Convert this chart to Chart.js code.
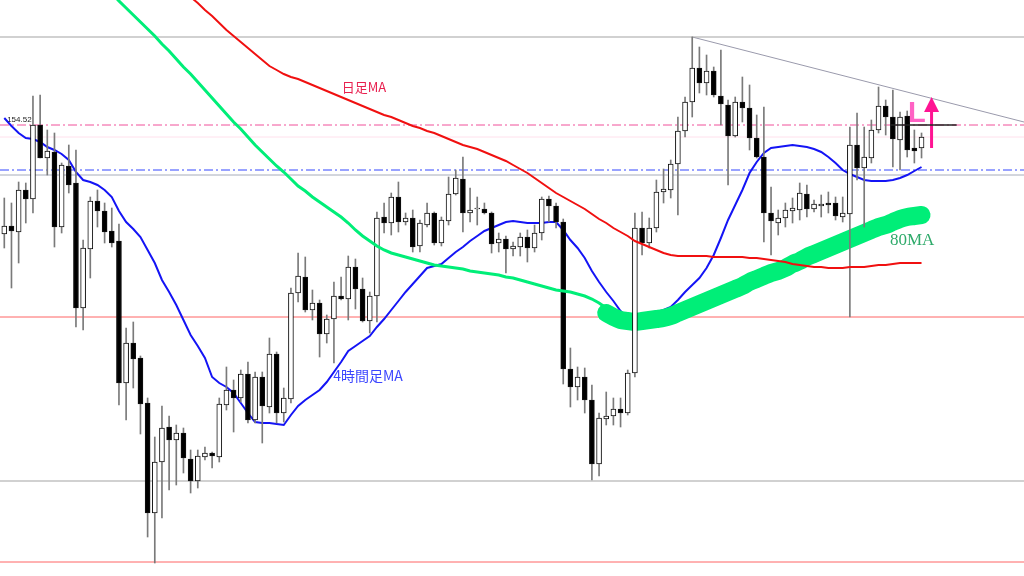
<!DOCTYPE html>
<html>
<head>
<meta charset="utf-8">
<script src="https://cdn.jsdelivr.net/npm/chart.js@4.4.1/dist/chart.umd.min.js"></script>
<style>
  html, body { margin: 0; padding: 0; background: #ffffff; }
  #wrap { width: 1024px; height: 576px; }
</style>
</head>
<body>
<div id="wrap"><canvas id="chart" width="1024" height="576"></canvas></div>
<script>
// 4h candles, index 0..128 (prices)
var candleOpen = [
  153.43,153.51,153.45,153.87,153.78,154.52,154.19,154.25,153.50,154.11,
  153.94,152.69,153.28,153.76,153.66,153.46,153.36,151.94,152.34,152.19,
  151.74,150.64,151.15,151.50,151.37,151.44,151.18,150.96,151.20,151.24,
  151.20,151.72,151.87,151.79,152.03,151.57,152.00,151.70,152.23,151.64,
  151.78,152.84,153.00,152.67,152.74,152.43,152.58,152.81,152.78,153.10,
  152.88,152.56,152.81,153.60,153.54,153.80,153.55,153.59,153.31,153.52,
  153.64,153.34,153.56,153.83,153.98,153.64,153.68,153.68,153.64,153.34,
  153.38,153.28,153.30,153.40,153.29,153.44,153.78,153.71,153.55,152.08,
  151.90,152.00,151.77,151.13,151.58,151.61,151.68,151.64,152.04,153.49,
  153.34,153.49,153.85,153.87,154.13,154.46,154.75,155.09,154.94,155.06,
  154.81,154.72,154.41,154.75,154.69,154.39,154.20,153.64,153.54,153.59,
  153.66,153.67,153.83,153.68,153.71,153.74,153.74,153.60,153.63,154.32,
  154.09,154.19,154.47,154.71,154.60,154.37,154.61,154.29,154.29
];
var candleHigh = [
  153.79,153.74,153.95,153.94,154.81,154.82,154.47,154.44,154.14,154.32,
  154.27,153.37,153.80,153.87,153.74,153.69,153.53,152.49,152.55,152.21,
  151.79,151.40,151.71,151.61,151.52,151.49,151.27,151.27,151.30,151.25,
  151.79,152.10,151.97,152.07,152.15,152.05,152.05,152.39,152.25,151.89,
  152.89,153.24,153.20,152.87,152.77,152.62,152.95,153.00,153.21,153.18,
  152.99,152.85,153.65,153.74,153.84,153.95,153.64,153.67,153.57,153.74,
  153.65,153.60,154.00,154.07,154.20,153.89,153.80,153.74,153.65,153.44,
  153.41,153.35,153.44,153.47,153.52,153.80,153.81,153.74,153.58,152.29,
  152.10,152.09,151.92,151.64,151.85,151.79,151.79,152.07,153.64,153.65,
  153.59,153.97,154.08,154.17,154.60,154.80,155.40,155.30,155.22,155.10,
  155.27,154.77,154.80,155.00,154.92,154.62,154.70,153.90,153.67,153.74,
  153.79,153.94,153.92,153.77,153.82,153.85,153.80,153.80,154.50,154.64,
  154.50,154.57,154.90,154.77,154.87,154.65,154.66,154.47,154.44
];
var candleLow = [
  153.29,152.89,153.14,153.54,153.64,154.19,154.02,153.30,153.44,153.84,
  152.50,152.47,152.99,153.50,153.34,153.30,151.72,151.57,151.89,151.43,
  150.40,150.14,150.59,150.87,150.92,151.04,150.84,150.89,151.17,151.09,
  151.15,151.67,151.45,151.75,151.54,151.54,151.34,151.64,151.54,151.55,
  151.74,152.75,152.65,152.57,152.20,152.34,152.14,152.77,152.57,152.68,
  152.55,152.44,152.55,153.44,153.42,153.45,153.52,153.25,153.25,153.50,
  153.32,153.31,153.52,153.82,153.45,153.55,153.52,153.63,153.24,153.25,
  153.04,153.21,153.21,153.15,153.25,153.37,153.55,153.49,151.93,151.70,
  151.77,151.64,150.97,151.01,151.52,151.52,151.50,151.62,152.00,153.22,
  153.29,153.45,153.74,153.79,153.62,154.40,154.60,154.84,154.82,154.80,
  154.52,153.92,154.40,154.55,154.27,154.19,153.35,153.22,153.42,153.50,
  153.54,153.57,153.60,153.65,153.60,153.64,153.57,153.55,152.60,153.97,
  153.50,154.14,154.44,154.42,154.10,154.07,154.20,154.14,154.19
];
var candleClose = [
  153.51,153.46,153.87,153.78,154.52,154.19,154.26,153.50,154.12,153.92,
  152.69,153.29,153.76,153.66,153.45,153.34,151.94,152.34,152.18,151.73,
  150.64,151.15,151.49,151.37,151.44,151.19,150.96,151.21,151.24,151.21,
  151.73,151.87,151.79,152.03,151.57,152.00,151.71,152.23,151.64,151.79,
  152.84,153.01,152.67,152.74,152.43,152.58,152.81,152.78,153.10,152.88,
  152.56,152.81,153.59,153.54,153.80,153.55,153.59,153.30,153.54,153.64,
  153.34,153.57,153.83,153.99,153.64,153.67,153.69,153.64,153.33,153.38,
  153.28,153.31,153.40,153.29,153.44,153.78,153.71,153.55,152.08,151.90,
  152.00,151.77,151.13,151.59,151.61,151.68,151.64,152.04,153.49,153.34,
  153.49,153.85,153.88,154.13,154.46,154.75,155.09,154.94,155.06,154.82,
  154.73,154.41,154.75,154.69,154.39,154.20,153.64,153.56,153.59,153.67,
  153.69,153.84,153.68,153.73,153.73,153.72,153.61,153.64,154.32,154.09,
  154.20,154.47,154.71,154.60,154.38,154.60,154.27,154.26,154.40
];

// 4時間足MA (blue), starts at candle 0
var maFourHour = [
  154.59,154.51,154.44,154.39,154.38,154.35,154.30,154.27,154.23,154.17,
  154.05,153.97,153.95,153.92,153.87,153.80,153.66,153.55,153.48,153.40,
  153.27,153.14,152.97,152.85,152.72,152.57,152.42,152.31,152.19,152.00,
  151.94,151.90,151.84,151.74,151.64,151.55,151.54,151.54,151.53,151.52,
  151.62,151.71,151.77,151.82,151.87,151.95,152.05,152.15,152.26,152.31,
  152.36,152.41,152.50,152.58,152.67,152.76,152.85,152.93,153.01,153.09,
  153.11,153.13,153.19,153.25,153.30,153.36,153.41,153.46,153.49,153.52,
  153.55,153.56,153.55,153.54,153.54,153.54,153.55,153.55,153.47,153.37,
  153.29,153.19,153.06,152.95,152.85,152.76,152.66,152.59,152.57,152.59,
  152.62,152.65,152.67,152.70,152.77,152.85,152.92,152.99,153.09,153.22,
  153.39,153.57,153.72,153.87,154.04,154.15,154.24,154.29,154.30,154.31,
  154.32,154.31,154.30,154.28,154.25,154.20,154.14,154.07,154.03,154.00,
  153.97,153.96,153.96,153.96,153.97,153.99,154.02,154.06,154.10
];

// 日足MA (red), starts at candle 26
var maDailyStart = 26;
var maDaily = [
  155.80,155.74,155.67,155.61,
  155.54,155.47,155.41,155.35,155.29,155.23,155.17,155.11,155.07,155.03,
  155.00,154.98,154.95,154.92,154.89,154.86,154.83,154.80,154.77,154.74,
  154.71,154.68,154.65,154.62,154.60,154.57,154.54,154.51,154.49,154.46,
  154.44,154.41,154.38,154.35,154.32,154.30,154.28,154.25,154.22,154.19,
  154.16,154.12,154.08,154.04,153.99,153.94,153.89,153.84,153.80,153.76,
  153.72,153.68,153.63,153.58,153.54,153.49,153.45,153.41,153.36,153.33,
  153.30,153.27,153.24,153.22,153.21,153.21,153.21,153.21,153.21,153.20,
  153.20,153.20,153.20,153.20,153.19,153.19,153.18,153.17,153.16,153.15,
  153.13,153.12,153.11,153.10,153.10,153.09,153.09,153.09,153.10,153.10,
  153.10,153.11,153.12,153.12,153.13,153.14,153.14,153.14,153.14
];

// 1時間足 80MA (thin green), starts at candle 15
var ma80Start = 15;
var ma80 = [
  155.84,155.76,155.69,155.62,155.55,
  155.48,155.41,155.33,155.26,155.18,155.10,155.03,154.95,154.87,154.79,
  154.71,154.63,154.55,154.48,154.40,154.32,154.25,154.18,154.11,154.05,
  153.98,153.91,153.86,153.80,153.75,153.70,153.65,153.60,153.54,153.47,
  153.41,153.36,153.31,153.27,153.24,153.22,153.20,153.18,153.16,153.14,
  153.12,153.11,153.10,153.09,153.08,153.06,153.05,153.04,153.03,153.02,
  153.00,152.99,152.97,152.95,152.93,152.91,152.89,152.87,152.86,152.85,
  152.83,152.81,152.78,152.74,152.69
];

// hand-drawn 80MA marker stroke, starts at candle 84
var marker80Start = 84;
var marker80 = [
  152.64,152.60,152.57,152.56,152.55,152.56,
  152.57,152.58,152.59,152.61,152.64,152.67,152.70,152.73,152.76,152.79,
  152.82,152.85,152.88,152.91,152.95,152.98,153.01,153.04,153.06,153.09,
  153.13,153.16,153.20,153.23,153.26,153.29,153.32,153.35,153.38,153.41,
  153.44,153.47,153.50,153.52,153.55,153.58,153.60,153.61,153.62
];

// horizontal levels and the falling trend line
var levelPrices = [155.40, 154.52, 154.40, 154.07, 154.02, 152.60, 150.96, 150.15];
var trendIndex = [96, 142.3];
var trendPrice = [155.40, 154.55];
var entryIndex = [123.6, 132.9];
var entryPrice = 154.52;
var arrowIndex = 129.4;
var arrowPrice = [154.29, 154.80];

var levelStyles = [
  { color: '#a3a3a3', dash: [] },
  { color: '#f0509a', dash: [9, 3, 2, 3] },
  { color: '#ffe0ec', dash: [] },
  { color: '#3347ff', dash: [9, 3, 2, 3] },
  { color: '#a6acba', dash: [] },
  { color: '#ff6464', dash: [] },
  { color: '#a3a3a3', dash: [] },
  { color: '#ff6464', dash: [] }
];

var notes = [
  { text: '154.52', x: 0.4, y: 154.57, font: '8px "Liberation Sans"', color: '#222222' },
  { text: '日足MA', x: 47.1, y: 154.90, font: '13px "Noto Sans CJK JP"', color: '#e8204f' },
  { text: '4時間足MA', x: 45.9, y: 152.01, font: '14px "Noto Sans CJK JP"', color: '#3c46ff' },
  { text: '80MA', x: 123.6, y: 153.36, font: '17px "Liberation Serif"', color: '#2eaa6a' }
];

var xMin = -0.6, xMax = 142.3, yMin = 150.01, yMax = 155.77;

function series(start, values) {
  var pts = [];
  values.forEach(function(v, i) { pts.push({ x: start + i, y: v }); });
  return pts;
}

var wicks = [];
var bodies = [];
var bodyColors = [];
for (var i = 0; i < candleOpen.length; i++) {
  wicks.push({ x: i, y: [candleLow[i], candleHigh[i]] });
  bodies.push({ x: i, y: [candleOpen[i], candleClose[i]] });
  bodyColors.push(candleClose[i] >= candleOpen[i] ? '#ffffff' : '#000000');
}

var datasets = [];

levelPrices.forEach(function(p, k) {
  datasets.push({
    type: 'line',
    data: [{ x: xMin, y: p }, { x: xMax, y: p }],
    borderColor: levelStyles[k].color,
    borderDash: levelStyles[k].dash,
    borderWidth: 1,
    pointRadius: 0,
    order: 10
  });
});

datasets.push({
  type: 'line',
  data: [{ x: trendIndex[0], y: trendPrice[0] }, { x: trendIndex[1], y: trendPrice[1] }],
  borderColor: '#9a9aac',
  borderWidth: 1,
  pointRadius: 0,
  order: 10
});

datasets.push({
  type: 'line',
  data: series(0, maFourHour),
  borderColor: '#1414f5',
  borderWidth: 2,
  pointRadius: 0,
  order: 9
});

datasets.push({
  type: 'line',
  data: series(marker80Start, marker80),
  borderColor: 'rgb(0,238,120)',
  borderWidth: 18,
  borderCapStyle: 'round',
  borderJoinStyle: 'round',
  tension: 0.3,
  pointRadius: 0,
  order: 8
});

datasets.push({
  type: 'bar',
  data: wicks,
  backgroundColor: '#7a7a7a',
  borderWidth: 0,
  barThickness: 1,
  grouped: false,
  order: 7
});

datasets.push({
  type: 'bar',
  data: bodies,
  backgroundColor: bodyColors,
  borderColor: '#111111',
  borderWidth: 1,
  borderSkipped: false,
  barThickness: 5,
  grouped: false,
  order: 6
});

datasets.push({
  type: 'line',
  data: series(maDailyStart, maDaily),
  borderColor: '#f01010',
  borderWidth: 2,
  pointRadius: 0,
  order: 5
});

datasets.push({
  type: 'line',
  data: series(ma80Start, ma80),
  borderColor: 'rgb(0,238,120)',
  borderWidth: 3,
  pointRadius: 0,
  order: 5
});

datasets.push({
  type: 'line',
  data: [{ x: entryIndex[0], y: entryPrice }, { x: entryIndex[1], y: entryPrice }],
  borderColor: '#222222',
  borderWidth: 1.5,
  pointRadius: 0,
  order: 1
});

datasets.push({
  type: 'line',
  data: [{ x: arrowIndex, y: arrowPrice[0] }, { x: arrowIndex, y: arrowPrice[1] - 0.1 }],
  borderColor: '#ff1493',
  borderWidth: 3,
  pointRadius: 0,
  order: 1
});

// text labels, the pink "L" and the arrow head
var notesPlugin = {
  id: 'notes',
  afterDatasetsDraw: function(chart) {
    var ctx = chart.ctx;
    var xs = chart.scales.x;
    var ys = chart.scales.y;
    ctx.save();
    ctx.textBaseline = 'middle';
    notes.forEach(function(n) {
      ctx.font = n.font;
      ctx.fillStyle = n.color;
      ctx.fillText(n.text, xs.getPixelForValue(n.x), ys.getPixelForValue(n.y));
    });

    ctx.font = 'bold 29px "Liberation Sans"';
    ctx.fillStyle = '#ff62c4';
    ctx.textBaseline = 'alphabetic';
    ctx.fillText('L', xs.getPixelForValue(126.1), ys.getPixelForValue(154.55));

    var ax = xs.getPixelForValue(arrowIndex);
    var top = ys.getPixelForValue(arrowPrice[1]);
    ctx.fillStyle = '#ff1493';
    ctx.beginPath();
    ctx.moveTo(ax, top);
    ctx.lineTo(ax - 7.5, top + 15);
    ctx.lineTo(ax + 7.5, top + 15);
    ctx.closePath();
    ctx.fill();
    ctx.restore();
  }
};

var chartInstance = new Chart(document.getElementById('chart'), {
  type: 'bar',
  data: { datasets: datasets },
  options: {
    responsive: false,
    animation: false,
    events: [],
    layout: { padding: 0 },
    plugins: {
      legend: { display: false },
      tooltip: { enabled: false }
    },
    scales: {
      x: { type: 'linear', min: xMin, max: xMax, offset: false, display: false },
      y: { type: 'linear', min: yMin, max: yMax, display: false }
    }
  },
  plugins: [notesPlugin]
});
</script>
</body>
</html>
